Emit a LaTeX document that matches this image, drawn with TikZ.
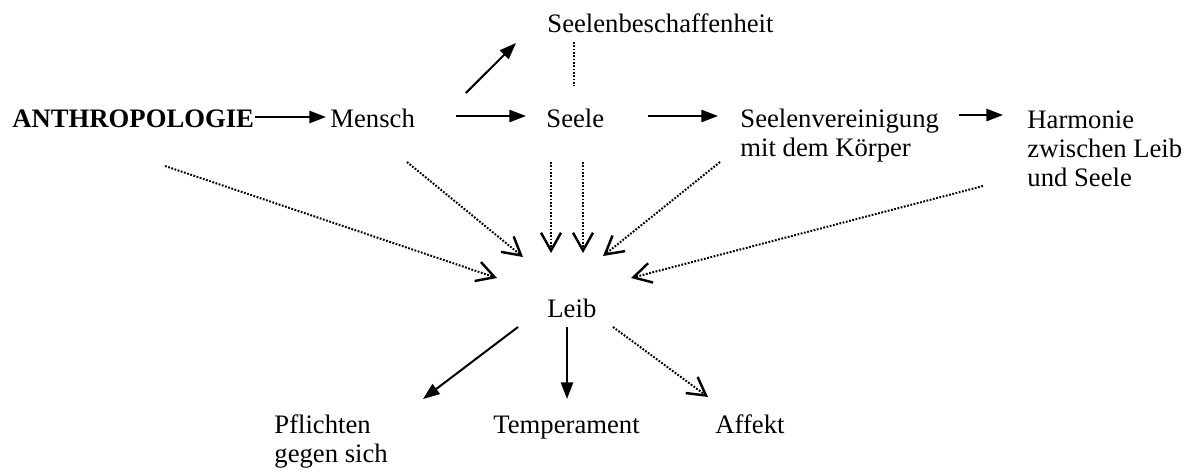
\documentclass[tikz,border=0pt]{standalone}
\usepackage{fontspec}
\setmainfont{Liberation Serif}
\usepackage{tikz}
\usetikzlibrary{arrows.meta}

\tikzset{
  txt/.style={inner sep=0pt, anchor=base west, align=left, font=\fontsize{12}{13}\selectfont},
  solidarr/.style={line width=0.9pt, -{Triangle[length=7.5pt,width=5.5pt]}},
  dotarr/.style={line width=0.9pt, dash pattern=on 0.8pt off 0.7pt, -{Straight Barb[length=8pt,width=9pt,line width=1.1pt]}},
  dotline/.style={line width=0.9pt, dash pattern=on 0.8pt off 0.7pt}
}

\begin{document}
\begin{tikzpicture}[x=0.45pt, y=-0.45pt]
         \useasboundingbox (0,0) rectangle (1191,471);

         % base = letzte Zeile bei mehrzeiligen Knoten
         \node[txt, font=\fontsize{12}{13}\selectfont\bfseries] (anthro) at (12,127) {ANTHROPOLOGIE};
         \node[txt] (mensch) at (330,127) {Mensch};
         \node[txt] (besch) at (547,32) {Seelenbeschaffenheit};
         \node[txt] (seele) at (546,127) {Seele};
         \node[txt] (verein) at (740,156) {Seelenvereinigung\\mit dem Körper};
         \node[txt] (harm) at (1027,186) {Harmonie\\zwischen Leib\\und Seele};
         \node[txt] (leib) at (547,317) {Leib};
         \node[txt] (pflicht) at (274,462) {Pflichten\\gegen sich};
         \node[txt] (temp) at (493,433) {Temperament};
         \node[txt] (affekt) at (715,433) {Affekt};

         % obere Reihe
         \draw[solidarr] ([shift={(1,-10)}]anthro.base east) -- ([shift={(-4,-10)}]mensch.base west);
         \draw[solidarr] ([shift={(40.5,-11)}]mensch.base east) -- ([shift={(-20,-11)}]seele.base west);
         \draw[solidarr] ([shift={(43,-11)}]seele.base east) -- ([shift={(-22,-40)}]verein.base west);
         \draw[solidarr] ([shift={(219,-41)}]verein.base west) -- ([shift={(-24,-71)}]harm.base west);
         \draw[solidarr] ([shift={(50.5,-34)}]mensch.base east) -- ([shift={(-31,11)}]besch.base west);
         \draw[dotline] ([shift={(27,10)}]besch.base west) -- ([shift={(28,-41)}]seele.base west);

         % alles zum Leib
         \draw[dotarr] ([shift={(153,39)}]anthro.base west) -- ([shift={(-50,-39)}]leib.base west);
         \draw[dotarr] ([shift={(77,35)}]mensch.base west) -- ([shift={(-24,-60)}]leib.base west);
         \draw[dotarr] ([shift={(5,35)}]seele.base west) -- ([shift={(4,-64)}]leib.base west);
         \draw[dotarr] ([shift={(37,35)}]seele.base west) -- ([shift={(36,-64)}]leib.base west);
         \draw[dotarr] ([shift={(-20,6)}]verein.base west) -- ([shift={(56,-61)}]leib.base west);
         \draw[dotarr] ([shift={(-44,0)}]harm.base west) -- ([shift={(84,-39)}]leib.base west);

         % vom Leib
         \draw[solidarr] ([shift={(-29,10)}]leib.base west) -- ([shift={(149,-63)}]pflicht.base west);
         \draw[solidarr] ([shift={(20,10)}]leib.base west) -- ([shift={(74,-34)}]temp.base west);
         \draw[dotarr] ([shift={(66,10)}]leib.base west) -- ([shift={(-7,-36)}]affekt.base west);
    \end{tikzpicture}
\end{document}
